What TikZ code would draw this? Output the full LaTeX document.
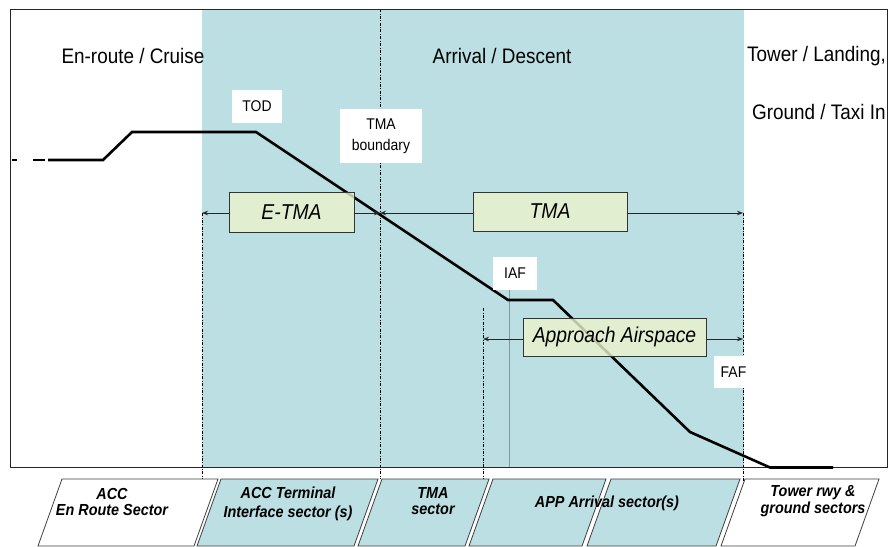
\documentclass[tikz,border=0pt]{standalone}
\usepackage{fontspec}
\setmainfont{Liberation Sans}[FakeStretch=0.9]
\usetikzlibrary{arrows.meta}
\definecolor{tealzone}{RGB}{187,223,227}
\definecolor{ybox}{RGB}{235,244,204}
\definecolor{iafgrey}{RGB}{130,150,155}
\begin{document}
\begin{tikzpicture}[x=1pt,y=-1pt,
  phase/.style={font=\fontsize{21}{24}\selectfont, inner sep=0pt},
  wlabel/.style={fill=white, font=\fontsize{15.5}{18}\selectfont, align=center, inner sep=0pt},
  zonebox/.style={draw=black!80, fill=ybox, fill opacity=0.8, text opacity=1, font=\fontsize{21.5}{24}\selectfont\itshape, line width=0.8pt, inner sep=0pt},
  spanarrow/.style={-{Stealth[length=6pt,width=4.5pt]}, line width=0.7pt, black!85},
  bound/.style={line width=0.6pt, dash pattern=on 3pt off 1.5pt on 0.8pt off 1.5pt},
  profile/.style={line width=2.6pt, line join=miter},
  sector/.style={draw=black!75, line width=0.8pt},
  sectortext/.style={font=\fontsize{16}{16.5}\selectfont\bfseries\itshape, align=center, inner sep=0pt}
]
\useasboundingbox (0,0) rectangle (890,546);
\fill[white] (0,0) rectangle (890,546);

% teal arrival zone
\fill[tealzone] (202,9) rectangle (744,467);

% boundaries
\draw[bound] (202,213) -- (202,492);
\draw[bound] (380,9) -- (380,479);
\draw[bound] (483,308) -- (483,490);
\draw[bound] (743,213) -- (743,484);
\draw[iafgrey, line width=0.6pt] (509,290) -- (509,467);

% frame
\draw[black!85, line width=0.9pt] (10,9) rectangle (887,467);

% phase labels
\node[phase] (cruise) at (133,56) {En-route / Cruise};
\node[phase] (arrival) at (502,56) {Arrival / Descent};
\node[phase, anchor=west] (tower) at (747,56) {Tower / Landing,};
\node[phase, anchor=west] (ground) at (752,112) {Ground / Taxi In};

% vertical profile
\draw[profile] (12,160) -- (17,160);
\draw[profile] (33,160) -- (45,160);
\draw[profile] (48,160) -- (103,160) -- (132,132) -- (256,132) -- (508,300) -- (553,300) -- (690,432) -- (770,467.5) -- (833,467.5);

% white labels
\node[wlabel, minimum width=50pt, minimum height=33pt] (tod) at (257,106.5) {TOD};
\node[wlabel, minimum width=82pt, minimum height=54pt] (tmab) at (381,136) {TMA\\[3pt]boundary};
\node[wlabel, minimum width=44pt, minimum height=33pt] (iaf) at (515,273) {IAF};
\node[wlabel, minimum width=39pt, minimum height=32pt] (faf) at (733.5,372) {FAF};

% zone boxes
\node[zonebox, minimum width=125pt, minimum height=40pt] (etma) at (291.5,212) {E-TMA};
\node[zonebox, minimum width=154pt, minimum height=39pt] (tma) at (550,211.5) {TMA};
\node[zonebox, minimum width=183pt, minimum height=38pt] (app) at (614.5,337) {Approach Airspace};

\coordinate (e1) at (202,213);
\coordinate (e2) at (380,213);
\coordinate (t2) at (743,213);
\coordinate (a1) at (483,339);
\coordinate (a2) at (743,339);
\draw[spanarrow] (etma.west |- e1) -- (e1);
\draw[spanarrow] (etma.east |- e2) -- (e2);
\draw[spanarrow] (tma.west |- e2) -- (e2);
\draw[spanarrow] (tma.east |- t2) -- (t2);
\draw[spanarrow] (app.west |- a1) -- (a1);
\draw[spanarrow] (app.east |- a2) -- (a2);

% sectors
\draw[sector, fill=white] (62,479) -- (218,479) -- (194,546) -- (38,546) -- cycle;
\draw[sector, fill=tealzone] (221,479) -- (378,479) -- (354,546) -- (197,546) -- cycle;
\draw[sector, fill=tealzone] (382,479) -- (489,479) -- (465,546) -- (358,546) -- cycle;
\draw[sector, fill=tealzone] (493,479) -- (606,479) -- (582,546) -- (469,546) -- cycle;
\draw[sector, fill=tealzone] (611,479) -- (740,479) -- (716,546) -- (587,546) -- cycle;
\draw[sector, fill=white] (745,479) -- (879,479) -- (855,546) -- (721,546) -- cycle;

\node[sectortext] (s1) at (112,502) {ACC\\En Route Sector};
\node[sectortext] (s2) at (288,504) {ACC Terminal\\[2pt]Interface sector (s)};
\node[sectortext] (s3) at (433,501) {TMA\\sector};
\node[sectortext] (s4) at (607,503) {APP Arrival sector(s)};
\node[sectortext] (s5) at (813,501) {Tower rwy \&\\ground sectors};
\end{tikzpicture}
\end{document}
